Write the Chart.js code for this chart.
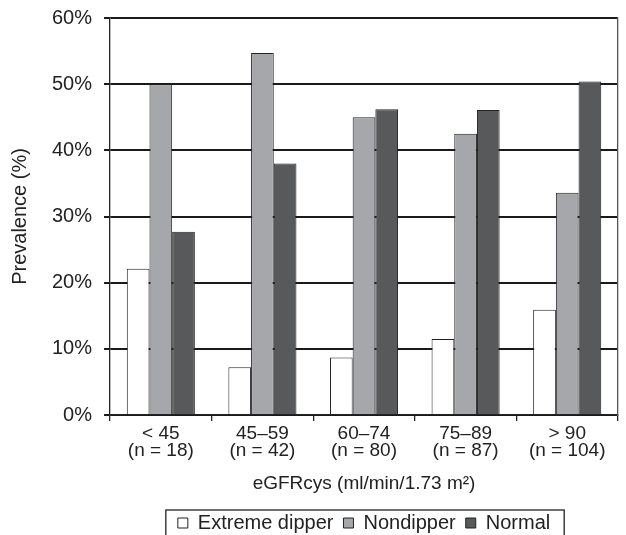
<!DOCTYPE html>
<html>
<head>
<meta charset="utf-8">
<script src="https://cdn.jsdelivr.net/npm/chart.js@4"></script>
<style>
  body { margin: 0; background: #fff; }
  #wrap { width: 626px; height: 535px; }
</style>
</head>
<body>
<div id="wrap"><canvas id="prev" width="626" height="535"></canvas></div>
<script>
const groups = [['< 45', '(n = 18)'], ['45–59', '(n = 42)'], ['60–74', '(n = 80)'], ['75–89', '(n = 87)'], ['> 90', '(n = 104)']];
const extremeDipper = [22.1, 7.2, 8.7, 11.5, 15.9];
const nondipper = [50.0, 54.7, 45.0, 42.5, 33.6];
const normal = [27.7, 38.0, 46.2, 46.1, 50.4];
const yTicks = [0, 10, 20, 30, 40, 50, 60];

const font = 'Liberation Sans, Arial, Helvetica, sans-serif';

// legend sits under the plot area (not the canvas) and has an open-bottom box round it
const legendFrame = {
    id: 'legendFrame',
    afterLayout(chart) {
        const lg = chart.legend;
        const ca = chart.chartArea;
        const dx = (ca.left + ca.right) / 2 - (lg.left + lg.right) / 2;
        const dy = 8;
        lg.left += dx; lg.right += dx;
        lg.top += dy; lg.bottom += dy;
    },
    afterDraw(chart) {
        const lg = chart.legend;
        if (!lg.lineWidths) return;
        const pad = lg.options.labels.padding;
        const L = lg.lineWidths[0];
        const start = (lg.left + pad + lg.right - L) / 2;
        const end = start + L - pad;
        const c = chart.ctx;
        const x0 = start - 12, x1 = end + 14, y0 = lg.top + pad - 3;
        c.save();
        c.strokeStyle = '#222';
        c.lineWidth = 1.3;
        c.strokeRect(x0, y0, x1 - x0, chart.height + 5 - y0);
        c.restore();
    }
};

const chart = new Chart('prev', {
    type: 'bar',
    data: {
        labels: groups,
        datasets: [
            { label: 'Extreme dipper', data: extremeDipper, backgroundColor: '#ffffff', borderColor: '#222', borderWidth: 1 },
            { label: 'Nondipper', data: nondipper, backgroundColor: '#a6a7aa', borderColor: '#222', borderWidth: 1 },
            { label: 'Normal', data: normal, backgroundColor: '#58595b', borderColor: '#222', borderWidth: 1 }
        ]
    },
    options: {
        responsive: false,
        animation: false,
        layout: { padding: { left: 0, right: 8, top: 18, bottom: 0 } },
        datasets: { bar: { categoryPercentage: 0.67, barPercentage: 1.0 } },
        plugins: {
            tooltip: { enabled: false },
            legend: {
                position: 'bottom',
                labels: {
                    color: '#222',
                    font: { family: font, size: 20, lineHeight: 1.1 },
                    boxWidth: 10,
                    boxHeight: 10,
                    padding: 10
                }
            }
        },
        scales: {
            x: {
                grid: { drawOnChartArea: false, color: '#222', tickLength: 6, lineWidth: 1.3 },
                border: { color: '#222', width: 1.3 },
                ticks: { color: '#222', font: { family: font, size: 19, lineHeight: 0.9 }, padding: 4, maxRotation: 0 },
                title: { display: true, text: 'eGFRcys (ml/min/1.73 m²)', color: '#222', font: { family: font, size: 19 }, padding: { top: 9, bottom: 0 } }
            },
            y: {
                min: 0,
                max: 60,
                afterBuildTicks(axis) { axis.ticks = yTicks.map(v => ({ value: v })); },
                // top of the plot is set by layout padding, not by the label height
                afterFit(axis) { axis.paddingTop = 0; axis.paddingBottom = 0; },
                grid: { color: '#1a1a1a', lineWidth: 2, tickLength: 6 },
                border: { color: '#222', width: 1.3 },
                ticks: { color: '#222', font: { family: font, size: 20 }, padding: 12, callback: v => v + '%' },
                title: { display: true, text: 'Prevalence (%)', color: '#222', font: { family: font, size: 20 }, padding: { top: 8, bottom: 8 } }
            },
            yr: {
                position: 'right',
                min: 0,
                max: 60,
                grid: { drawOnChartArea: false, drawTicks: false },
                border: { color: '#555', width: 1.3 },
                ticks: { display: false }
            }
        }
    },
    plugins: [legendFrame]
});
</script>
</body>
</html>
